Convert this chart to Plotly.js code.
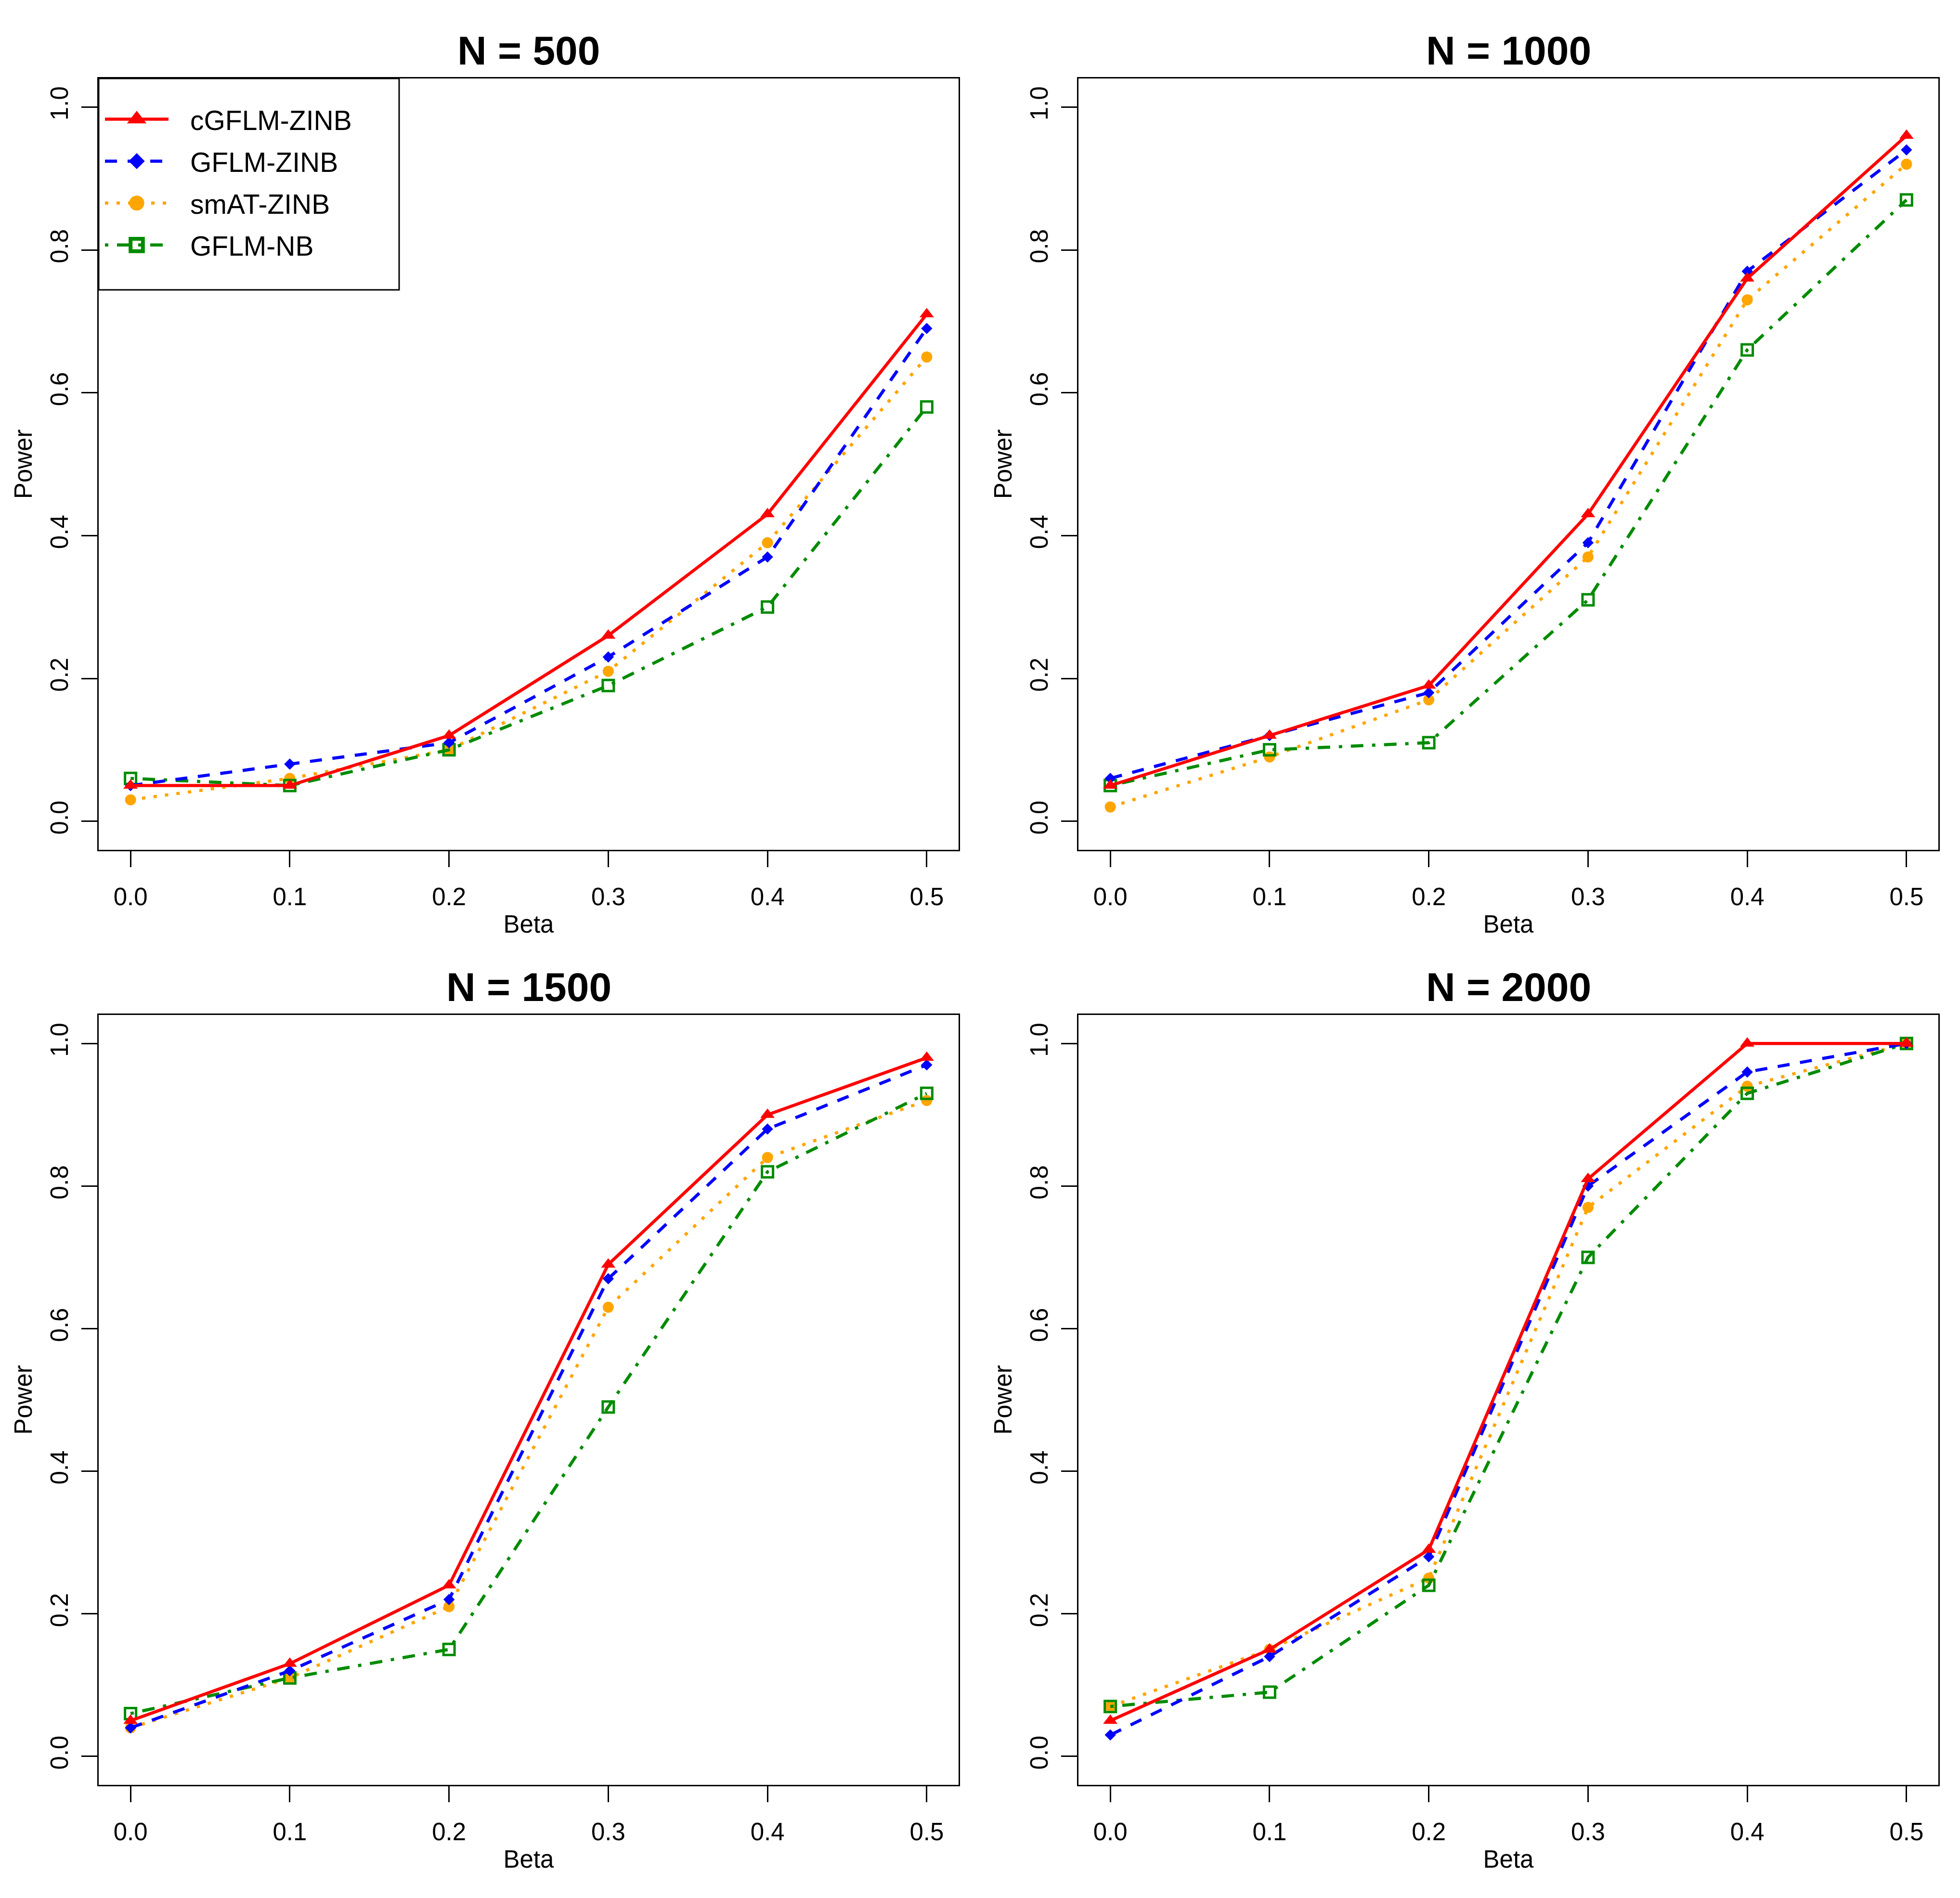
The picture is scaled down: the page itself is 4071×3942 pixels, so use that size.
<!DOCTYPE html>
<html>
<head>
<meta charset="utf-8">
<script src="https://cdn.plot.ly/plotly-3.0.1.min.js"></script>
<style>html,body{margin:0;padding:0;background:#fff;}</style>
</head>
<body>
<div id="chart" style="width:4071px;height:3942px;"></div>
<script>
// ---- data ----
var beta = [0.0, 0.1, 0.2, 0.3, 0.4, 0.5];
var panelTitles = ["N = 500", "N = 1000", "N = 1500", "N = 2000"];
var seriesNames = ["cGFLM-ZINB", "GFLM-ZINB", "smAT-ZINB", "GFLM-NB"];
var xTickVals = [0.0, 0.1, 0.2, 0.3, 0.4, 0.5];
var xTickText = ["0.0", "0.1", "0.2", "0.3", "0.4", "0.5"];
var yTickVals = [0.0, 0.2, 0.4, 0.6, 0.8, 1.0];
var yTickText = ["0.0", "0.2", "0.4", "0.6", "0.8", "1.0"];

var cGFLM_ZINB = [
  [0.05, 0.05, 0.12, 0.26, 0.43, 0.71],
  [0.05, 0.12, 0.19, 0.43, 0.76, 0.96],
  [0.05, 0.13, 0.24, 0.69, 0.90, 0.98],
  [0.05, 0.15, 0.29, 0.81, 1.00, 1.00]
];
var GFLM_ZINB = [
  [0.05, 0.08, 0.11, 0.23, 0.37, 0.69],
  [0.06, 0.12, 0.18, 0.39, 0.77, 0.94],
  [0.04, 0.12, 0.22, 0.67, 0.88, 0.97],
  [0.03, 0.14, 0.28, 0.80, 0.96, 1.00]
];
var smAT_ZINB = [
  [0.03, 0.06, 0.10, 0.21, 0.39, 0.65],
  [0.02, 0.09, 0.17, 0.37, 0.73, 0.92],
  [0.04, 0.11, 0.21, 0.63, 0.84, 0.92],
  [0.07, 0.15, 0.25, 0.77, 0.94, 1.00]
];
var GFLM_NB = [
  [0.06, 0.05, 0.10, 0.19, 0.30, 0.58],
  [0.05, 0.10, 0.11, 0.31, 0.66, 0.87],
  [0.06, 0.11, 0.15, 0.49, 0.82, 0.93],
  [0.07, 0.09, 0.24, 0.70, 0.93, 1.00]
];

// ---- styles ----
var FONT = "Liberation Sans, Arial, sans-serif";
var W = 4071, H = 3942;
var styles = [
  {values: cGFLM_ZINB, color: "#FF0000", dash: "solid", symbol: "triangle-up", size: 26, lineW: 0, rank: 1, legendScale: 2.2},
  {values: GFLM_ZINB, color: "#0000FF", dash: "25px,22px", symbol: "diamond", size: 18, lineW: 0, rank: 2, legendScale: 1.6},
  {values: smAT_ZINB, color: "#FFA500", dash: "7px,17px", symbol: "circle", size: 23, lineW: 0, rank: 3, legendScale: 1.95},
  {values: GFLM_NB, color: "#008B00", dash: "7px,18px,26px,18px", symbol: "square-open", size: 23, lineW: 5, rank: 4, legendScale: 1.6}
];

// pixel boxes of the four plot regions (left, right, top, bottom)
var boxes = [
  [205, 1991, 163, 1765],
  [2240, 4026, 163, 1765],
  [205, 1991, 2108, 3707],
  [2240, 4026, 2108, 3707]
];
var titleY = [105, 105, 2050, 2050];

var traces = [];
var order = [2, 3, 1, 0]; // draw order: smAT, GFLM-NB, GFLM-ZINB, cGFLM
for (var p = 0; p < 4; p++) {
  for (var k = 0; k < order.length; k++) {
    var s = order[k];
    var st = styles[s];
    traces.push({
      type: "scatter",
      mode: "lines+markers",
      x: beta,
      y: st.values[p],
      name: seriesNames[s],
      legendgroup: seriesNames[s],
      legendrank: st.rank,
      showlegend: p === 0,
      xaxis: p === 0 ? "x" : "x" + (p + 1),
      yaxis: p === 0 ? "y" : "y" + (p + 1),
      line: {color: st.color, width: 6.5, dash: st.dash},
      marker: {symbol: st.symbol, size: st.size, color: st.color,
               line: {color: st.color, width: st.lineW}},
      cliponaxis: false
    });
  }
}

var layout = {
  width: W, height: H,
  margin: {l: 0, r: 0, t: 0, b: 0},
  paper_bgcolor: "#ffffff", plot_bgcolor: "#ffffff",
  font: {family: FONT, size: 51, color: "#000"},
  showlegend: true,
  legend: {
    x: (288 - 111 - 4) / W, y: 1 - 204 / H, xanchor: "left", yanchor: "top",
    bgcolor: "rgba(0,0,0,0)", borderwidth: 0,
    font: {family: FONT, size: 57, color: "#000"},
    itemwidth: 212, tracegroupgap: 10, traceorder: "grouped"
  },
  annotations: [],
  shapes: [{
    type: "rect", xref: "paper", yref: "paper",
    x0: 205 / W, x1: 829 / W, y0: 1 - 602 / H, y1: 1 - 163 / H,
    line: {color: "#000", width: 3}, fillcolor: "rgba(0,0,0,0)"
  }]
};

for (var p = 0; p < 4; p++) {
  var b = boxes[p];
  var sfx = p === 0 ? "" : String(p + 1);
  layout["xaxis" + sfx] = {
    domain: [b[0] / W, b[1] / W],
    anchor: "y" + sfx,
    range: [-0.02, 0.52],
    tickvals: xTickVals, ticktext: xTickText,
    ticks: "outside", ticklen: 33, tickwidth: 3, tickcolor: "#000",
    ticklabelstandoff: 18,
    showline: true, linecolor: "#000", linewidth: 3, mirror: true,
    showgrid: false, zeroline: false,
    tickfont: {family: FONT, size: 51, color: "#000"},
    title: {text: "Beta", font: {family: FONT, size: 51, color: "#000"}, standoff: 12}
  };
  layout["yaxis" + sfx] = {
    domain: [1 - b[3] / H, 1 - b[2] / H],
    anchor: "x" + sfx,
    range: [-0.04, 1.04],
    tickvals: yTickVals, ticktext: yTickText,
    tickangle: -90,
    ticks: "outside", ticklen: 33, tickwidth: 3, tickcolor: "#000",
    ticklabelstandoff: 8,
    showline: true, linecolor: "#000", linewidth: 3, mirror: true,
    showgrid: false, zeroline: false,
    tickfont: {family: FONT, size: 51, color: "#000"},
    title: {text: "Power", font: {family: FONT, size: 51, color: "#000"}, standoff: 12}
  };
  layout.annotations.push({
    text: panelTitles[p], xref: "paper", yref: "paper",
    x: (b[0] + b[1]) / 2 / W, y: 1 - titleY[p] / H,
    xanchor: "center", yanchor: "middle", showarrow: false,
    font: {family: FONT, size: 84, color: "#000", weight: "bold"}
  });
}

function tweakLegend(gd) {
  // enlarge legend symbols to resemble the reference legend
  var items = gd.querySelectorAll(".legend .traces");
  items.forEach(function (it) {
    var txt = it.querySelector(".legendtext");
    var name = txt ? txt.textContent : "";
    var idx = seriesNames.indexOf(name);
    if (idx < 0) return;
    var sc = styles[idx].legendScale;
    it.querySelectorAll(".legendpoints path").forEach(function (pt) {
      if (pt.getAttribute("data-scaled") === "1") return;
      var tr = pt.getAttribute("transform") || "";
      pt.setAttribute("transform", tr + " scale(" + sc + ")");
      pt.setAttribute("data-scaled", "1");
    });
    it.querySelectorAll(".legendlines path").forEach(function (ln) {
      ln.setAttribute("d", "M45,0h132");
    });
  });
}

Plotly.newPlot("chart", traces, layout, {staticPlot: true, displayModeBar: false}).then(function (gd) {
  tweakLegend(gd);
  setTimeout(function () { tweakLegend(gd); }, 50);
});
</script>
</body>
</html>
